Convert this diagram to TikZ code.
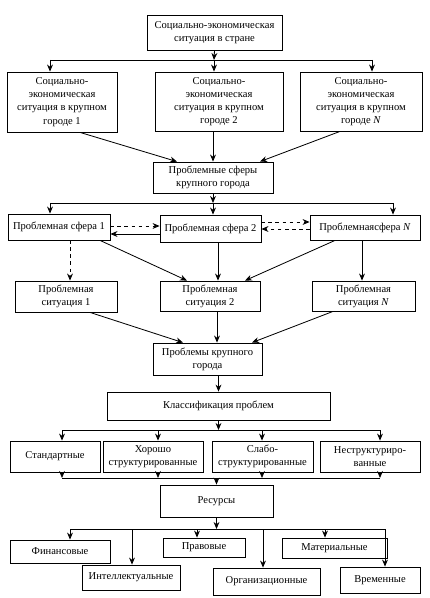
\documentclass[tikz,border=0pt]{standalone}
\usepackage{fontspec}
\setmainfont{Liberation Serif}
\usetikzlibrary{arrows.meta, calc}

\tikzset{
  box/.style={draw, align=center, inner sep=1pt, font=\fontsize{9}{11.3}\selectfont},
  wh/.style 2 args={minimum width=#1*0.03cm, minimum height=#2*0.03cm},
  arr/.style={-{Stealth[length=6pt, width=5pt]}},
}

\begin{document}
\begin{tikzpicture}[x=0.03cm, y=-0.03cm, line width=0.7pt]
        \useasboundingbox (0,0) rectangle (430,598);

        \node[box, wh={135}{35}] (country) at (214.5,32.5) {Социально-экономическая\\ситуация в стране};
        \node[box, wh={110}{60}] (city1) at (62,102) {Социально-\\экономическая\\ситуация в крупном\\городе 1};
        \node[box, wh={128}{59}] (city2) at (219,101.5) {Социально-\\экономическая\\ситуация в крупном\\городе 2};
        \node[box, wh={122}{59}] (cityN) at (361,101.5) {Социально-\\экономическая\\ситуация в крупном\\городе \textit{N}};
        \node[box, wh={120}{31}] (spheres) at (213,177.5) {Проблемные сферы\\крупного города};
        \node[box, wh={102}{26}] (sph1) at (59,227) {Проблемная сфера 1};
        \node[box, wh={101}{27}] (sph2) at (210.5,228.5) {Проблемная сфера 2};
        \node[box, wh={110}{25}] (sphN) at (365,227.5) {Проблемнаясфера \textit{N}};
        \node[box, wh={102}{31}] (sit1) at (66,296.5) {Проблемная\\ситуация 1};
        \node[box, wh={100}{30}] (sit2) at (210,296) {Проблемная\\ситуация 2};
        \node[box, wh={103}{30}] (sitN) at (363.5,296) {Проблемная\\ситуация \textit{N}};
        \node[box, wh={109}{32}] (problems) at (207.5,359) {Проблемы крупного\\города};
        \node[box, wh={223}{28}] (classes) at (218.5,406) {Классификация проблем};
        \node[box, wh={90}{31}] (standard) at (55,456.5) {Стандартные};
        \node[box, wh={100}{31}] (good) at (153,456.5) {Хорошо\\структурированные};
        \node[box, wh={101}{31}] (weak) at (262.5,456.5) {Слабо-\\структурированные};
        \node[box, wh={100}{31}] (unstruct) at (370,456.5) {Неструктуриро-\\ванные};
        \node[box, wh={113}{32}] (resources) at (216.5,501) {Ресурсы};
        \node[box, wh={100}{23}] (finance) at (60,551.5) {Финансовые};
        \node[box, wh={98}{25}] (intellect) at (131,577.5) {Интеллектуальные};
        \node[box, wh={82}{19}] (legal) at (204,547.5) {Правовые};
        \node[box, wh={107}{27}] (organiz) at (266.5,581.5) {Организационные};
        \node[box, wh={105}{20}] (material) at (334.5,548) {Материальные};
        \node[box, wh={80}{26}] (timeres) at (380,580) {Временные};

        % country -> cities
        \coordinate (b1) at (50,60);
        \coordinate (b2) at (214,60);
        \coordinate (b3) at (372,60);
        \draw[arr] (country.south) -- (b2);
        \draw (b1) -- (b3);
        \draw[arr] (b1) -- (b1 |- city1.north);
        \draw[arr] (b2) -- (b2 |- city2.north);
        \draw[arr] (b3) -- (b3 |- cityN.north);

        % cities -> spheres
        \draw[arr] ($(city1.south)+(18,0)$) -- ($(spheres.north)+(-36,0)$);
        \draw[arr] (spheres.north |- city2.south) -- (spheres.north);
        \draw[arr] ($(cityN.south)+(-21,0)$) -- ($(spheres.north)+(47,0)$);

        % spheres -> sphere 1..N
        \coordinate (d1) at (50,203);
        \coordinate (d2) at (213,203);
        \coordinate (d3) at (393,203);
        \draw[arr] (spheres.south) -- (d2);
        \draw (d1) -- (d3);
        \draw[arr] (d1) -- (d1 |- sph1.north);
        \draw[arr] (d2) -- (d2 |- sph2.north);
        \draw[arr] (d3) -- (d3 |- sphN.north);

        \draw[arr, dashed] ($(sph1.east)+(0,-1)$) -- ($(sph2.west)+(0,-2.5)$);
        \draw[arr] ($(sph2.west)+(0,5.5)$) -- ($(sph1.east)+(0,7)$);
        \draw[arr, dashed] ($(sph2.east)+(0,-6.5)$) -- ($(sphN.west)+(0,-5.5)$);
        \draw[arr, dashed] ($(sphN.west)+(0,1.5)$) -- ($(sph2.east)+(0,0.5)$);

        % spheres -> situations
        \coordinate (s1) at ($(sph1.south)+(11,0)$);
        \draw[arr, dashed] (s1) -- (s1 |- sit1.north);
        \draw[arr] ($(sph1.south)+(41,0)$) -- ($(sit2.north)+(-23,0)$);
        \coordinate (s2) at ($(sph2.south)+(7.5,0)$);
        \draw[arr] (s2) -- (s2 |- sit2.north);
        \draw[arr] ($(sphN.south)+(-30,0)$) -- ($(sit2.north)+(35,0)$);
        \coordinate (s3) at ($(sphN.south)+(-3,0)$);
        \draw[arr] (s3) -- (s3 |- sitN.north);

        % situations -> problems -> classification
        \draw[arr] ($(sit1.south)+(24,0)$) -- ($(problems.north)+(-24.5,0)$);
        \coordinate (p2) at ($(sit2.south)+(7,0)$);
        \draw[arr] (p2) -- (p2 |- problems.north);
        \draw[arr] ($(sitN.south)+(-30.5,0)$) -- ($(problems.north)+(44.5,0)$);
        \draw[arr] (classes.north |- problems.south) -- (classes.north);

        % classification -> types -> resources
        \coordinate (e1) at (62,430);
        \coordinate (e2) at (158,430);
        \coordinate (e3) at (262,430);
        \coordinate (e4) at (380,430);
        \draw[arr] (classes.south) -- (classes.south |- e1);
        \draw (e1) -- (e4);
        \draw[arr] (e1) -- (e1 |- standard.north);
        \draw[arr] (e2) -- (e2 |- good.north);
        \draw[arr] (e3) -- (e3 |- weak.north);
        \draw[arr] (e4) -- (e4 |- unstruct.north);

        \coordinate (g1) at (62,478);
        \coordinate (g4) at (380,478);
        \draw (g1) -- (g4);
        \draw[arr] (g1 |- standard.south) -- (g1);
        \draw[arr] (e2 |- good.south) -- (e2 |- g1);
        \draw[arr] (e3 |- weak.south) -- (e3 |- g1);
        \draw[arr] (g4 |- unstruct.south) -- (g4);
        \draw[arr] (resources.north |- g1) -- (resources.north);

        % resources -> kinds
        \coordinate (f1) at (70,529);
        \coordinate (f2) at (132,529);
        \coordinate (f3) at (197,529);
        \coordinate (f4) at (263,529);
        \coordinate (f5) at (325,529);
        \coordinate (f6) at (385,529);
        \draw[arr] (resources.south) -- (resources.south |- f1);
        \draw (f1) -- (f6);
        \draw[arr] (f1) -- (f1 |- finance.north);
        \draw[arr] (f2) -- (f2 |- intellect.north);
        \draw[arr] (f3) -- (f3 |- legal.north);
        \draw[arr] (f4) -- (f4 |- organiz.north);
        \draw[arr] (f5) -- (f5 |- material.north);
        \draw[arr] (f6) -- (f6 |- timeres.north);
\end{tikzpicture}
\end{document}
